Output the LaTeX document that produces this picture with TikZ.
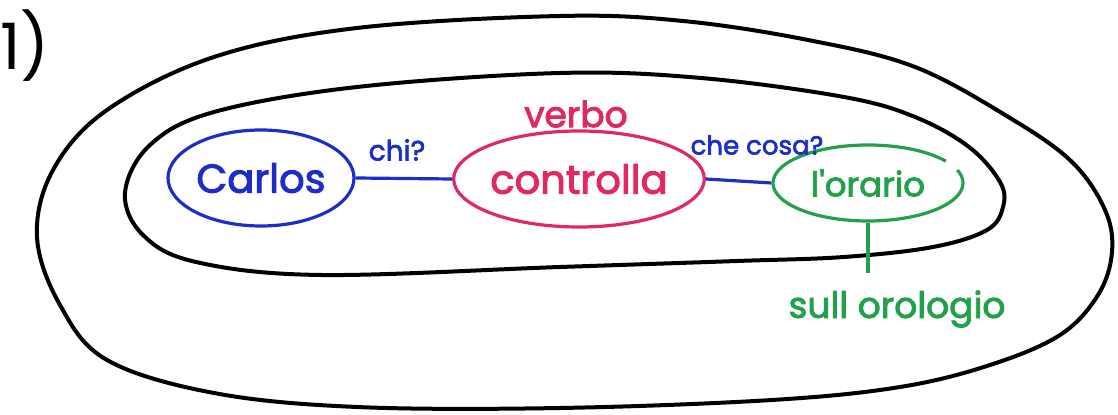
\documentclass[tikz,border=0pt]{standalone}
\usepackage{fontspec}
\setmainfont{Poppins}
\newfontfamily\handfont{Poppins}[FakeBold=2.5]
\usetikzlibrary{shapes.geometric}
\definecolor{penblue}{RGB}{30,45,200}
\definecolor{penpink}{RGB}{225,40,95}
\definecolor{pengreen}{RGB}{35,160,75}
\begin{document}
\begin{tikzpicture}[x=0.5pt, y=-0.5pt,
    bubble/.style={ellipse, line width=1.6pt, inner sep=0pt},
    link/.style={line width=1.6pt},
    hand/.style={font=\handfont\fontsize{#1}{#1}\selectfont}]
    \useasboundingbox (0,0) rectangle (1118,415);
    % the two rings
    \draw[line width=2pt] plot[smooth cycle, tension=0.6] coordinates {
        (37,237) (53,170) (107,110) (214,57) (357,28) (560,16) (683,21)
        (808,40) (915,67) (1010,118) (1072,162) (1105,210) (1112,252)
        (1098,295) (1060,335) (990,365) (900,387) (772,400) (560,408)
        (357,407) (214,393) (107,360) (60,305)};
    \draw[line width=2pt] plot[smooth cycle, tension=0.6] coordinates {
        (125,193) (150,145) (214,112) (357,87) (560,73) (701,78) (844,97)
        (915,117) (969,147) (1000,182) (1003,207) (987,230) (933,247)
        (844,257) (737,261) (560,267) (321,275) (196,262) (143,235)};
    \node[anchor=west, inner sep=0pt, font=\fontsize{32}{32}\selectfont] (num) at (0,46) {1)};
    % the three words
    \node[bubble, draw, penblue, minimum width=93pt, minimum height=48pt, hand=20] (carlos) at (261,178) {Carlos};
    \node[bubble, draw, penpink, minimum width=114pt, minimum height=48pt, hand=20] (controlla) at (579,179) {controlla};
    \node[bubble, pengreen, minimum width=95pt, minimum height=38pt, hand=17] (orario) at (868,183) {l'orario};
    \draw[link, pengreen] ([shift={(35:47.5pt and 19pt)}]orario.center)
        arc[start angle=35, end angle=380, x radius=47.5pt, y radius=19pt];
    % questions and notes
    \node[penpink, hand=18] (verbo) at (576,114) {verbo};
    \node[penblue, hand=14] (chi) at (397,150) {chi?};
    \node[penblue, hand=13] (checosa) at (757,145) {che cosa?};
    \node[pengreen, hand=18] (orologio) at (897,309) {sull orologio};
    \draw[link, penblue] (carlos.east) -- (controlla.west);
    \draw[link, penblue] (controlla.east) -- (orario.west);
    \draw[link, pengreen, shorten >=5pt] (orario.south) -- (orario.south |- orologio.north);
\end{tikzpicture}
\end{document}
